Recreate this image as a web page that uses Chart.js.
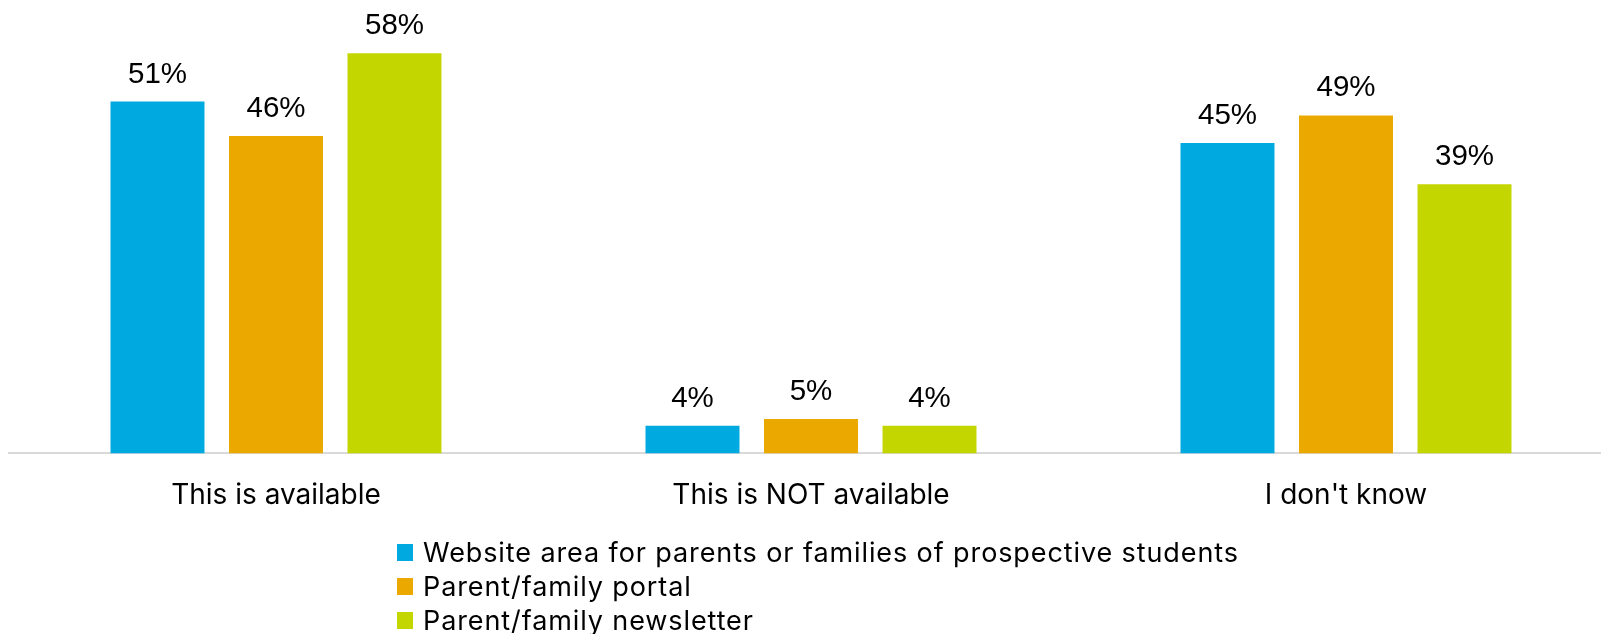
<!DOCTYPE html>
<html>
<head>
<meta charset="utf-8">
<script src="https://cdn.jsdelivr.net/npm/chart.js@4"></script>
<style>
	html, body { margin: 0; padding: 0; background: #fff; overflow: hidden; }
	#wrap { position: relative; width: 1622px; height: 634px; }
	#legend { position: absolute; left: 397px; top: 535px; font-family: Inter, "Noto Sans", sans-serif; font-size: 27px; letter-spacing: 0.9px; color: #000; }
	#legend .item { display: flex; align-items: center; height: 34px; white-space: nowrap; }
	#legend .box { width: 16px; height: 17px; margin-right: 10px; }
</style>
</head>
<body>
<div id="wrap">
	<canvas id="diagram"></canvas>
	<div id="legend"></div>
</div>
<script>
const categories = ['This is available', 'This is NOT available', "I don't know"];
const seriesNames = [
	'Website area for parents or families of prospective students',
	'Parent/family portal',
	'Parent/family newsletter'
];
const websiteArea = [51, 4, 45];
const familyPortal = [46, 5, 49];
const newsletter = [58, 4, 39];
const seriesColors = ['#00A9E0', '#EBA900', '#C4D600'];

// value labels above each bar
const valueLabels = {
	id: 'valueLabels',
	afterDatasetsDraw(chart) {
		const ctx = chart.ctx;
		ctx.save();
		ctx.font = '29.5px "Liberation Sans", Arial, sans-serif';
		ctx.fillStyle = '#000';
		ctx.textAlign = 'center';
		ctx.textBaseline = 'alphabetic';
		chart.data.datasets.forEach((ds, i) => {
			chart.getDatasetMeta(i).data.forEach((bar, j) => {
				ctx.fillText(ds.data[j] + '%', bar.x, bar.y - 19);
			});
		});
		ctx.restore();
	}
};

const chart = new Chart(document.getElementById('diagram'), {
	type: 'bar',
	data: {
		labels: categories,
		datasets: [websiteArea, familyPortal, newsletter].map((values, i) => ({
			label: seriesNames[i],
			data: values,
			backgroundColor: seriesColors[i],
			categoryPercentage: 0.6645,
			barPercentage: 0.793
		}))
	},
	options: {
		responsive: true,
		maintainAspectRatio: false,
		animation: false,
		layout: { padding: { left: 8.5, right: 8.5, top: 5, bottom: 105 } },
		plugins: {
			legend: { display: false },
			tooltip: { enabled: false }
		},
		scales: {
			x: {
				grid: { display: false },
				border: { display: true, color: '#D9D9D9', width: 2 },
				ticks: {
					color: '#000',
					padding: 17,
					font: { family: 'Inter, "Noto Sans", sans-serif', size: 28 }
				}
			},
			y: {
				display: false,
				min: 0,
				max: 65
			}
		}
	},
	plugins: [valueLabels]
});

// legend as a vertical list under the axis
const legend = document.getElementById('legend');
chart.data.datasets.forEach(ds => {
	const item = document.createElement('div');
	item.className = 'item';
	const box = document.createElement('span');
	box.className = 'box';
	box.style.background = ds.backgroundColor;
	item.appendChild(box);
	item.appendChild(document.createTextNode(ds.label));
	legend.appendChild(item);
});
</script>
</body>
</html>
